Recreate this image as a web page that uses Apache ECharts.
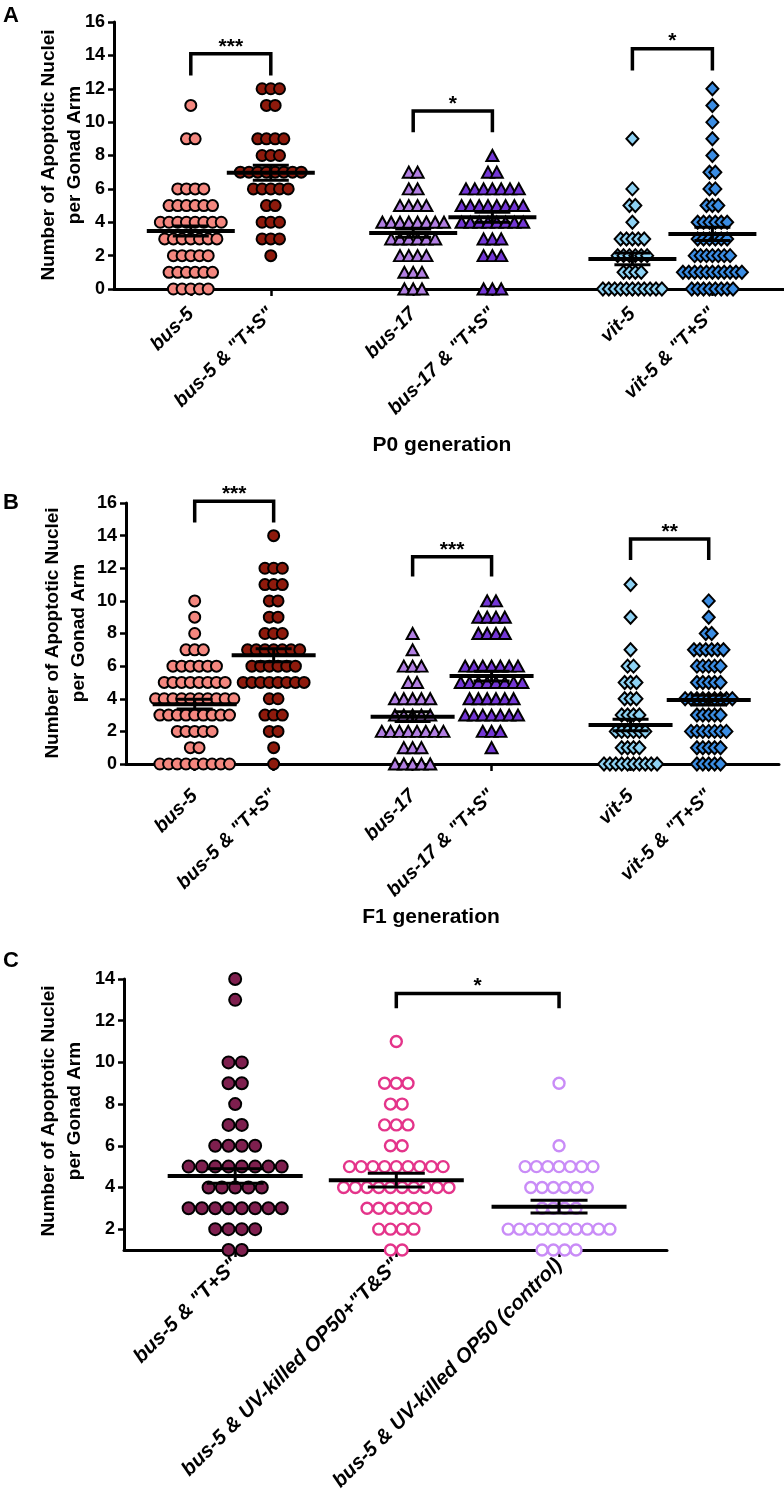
<!DOCTYPE html>
<html><head><meta charset="utf-8">
<script src="https://cdn.jsdelivr.net/npm/echarts@6/dist/echarts.min.js"></script>
<style>html,body{margin:0;padding:0;background:#fff}#c{width:784px;height:1500px}</style>
</head><body><div id="c"></div><script>
// ================= DATA =================
// Each array: element at index v = number of gonad arms with v apoptotic nuclei
const groupsAB = ['bus-5', 'bus-5 & "T+S"', 'bus-17', 'bus-17 & "T+S"', 'vit-5', 'vit-5 & "T+S"'];
const groupsC  = ['bus-5 & "T+S"', 'bus-5 & UV-killed OP50+"T&S"', 'bus-5 & UV-killed OP50 (control)'];
const ticksAB = [0, 2, 4, 6, 8, 10, 12, 14, 16];
const ticksC  = [2, 4, 6, 8, 10, 12, 14];

// Panel A - P0 generation
const A_bus5    = [5, 6, 5, 7, 8, 6, 4, 0, 0, 2, 0, 1];
const A_bus5TS  = [0, 0, 1, 3, 3, 2, 5, 8, 3, 4, 0, 2, 3];
const A_bus17   = [3, 3, 4, 6, 8, 4, 2, 2];
const A_bus17TS = [3, 0, 3, 3, 8, 8, 7, 2, 1];
const A_vit5    = [11, 4, 6, 5, 1, 2, 1, 0, 0, 1];
const A_vit5TS  = [8, 11, 7, 6, 6, 3, 2, 2, 1, 1, 1, 1, 1];
const A_mean = [3.47, 6.97, 3.35, 4.30, 1.80, 3.30];
const A_sem  = [0.30, 0.45, 0.25, 0.30, 0.35, 0.40];
const A_sig  = [[0, 1, 14.1, 12.8, '***'], [2, 3, 10.66, 9.4, '*'], [4, 5, 14.4, 13.1, '*']];

// Panel B - F1 generation
const B_bus5    = [9, 2, 5, 9, 10, 8, 6, 3, 1, 1, 1];
const B_bus5TS  = [1, 1, 2, 3, 2, 8, 6, 7, 3, 2, 2, 3, 3, 0, 1];
const B_bus17   = [5, 3, 8, 5, 5, 2, 3, 1, 1];
const B_bus17TS = [0, 1, 3, 7, 6, 8, 7, 0, 4, 4, 2];
const B_vit5    = [10, 4, 6, 4, 3, 3, 2, 1, 0, 1, 0, 1];
const B_vit5TS  = [5, 5, 7, 5, 9, 5, 5, 6, 2, 1, 1];
const B_mean = [3.67, 6.67, 2.90, 5.39, 2.39, 3.92];
const B_sem  = [0.30, 0.40, 0.30, 0.30, 0.35, 0.30];
const B_sig  = [[0, 1, 16.1, 14.8, '***'], [2, 3, 12.7, 11.5, '***'], [4, 5, 13.8, 12.5, '**']];

// Panel C
const C_bus5TS  = [0, 2, 4, 8, 5, 8, 4, 2, 1, 2, 2, 0, 0, 1, 1];
const C_uvTS    = [0, 2, 4, 6, 10, 9, 2, 3, 2, 3, 0, 1];
const C_uvCtrl  = [0, 4, 10, 4, 6, 7, 1, 0, 0, 1];
const C_mean = [4.55, 4.35, 3.08];
const C_sem  = [0.35, 0.33, 0.31];
const C_sig  = [[1, 2, 13.3, 12.6, '*']];

// ================= LAYOUT / STYLE =================
const FONT = '"Liberation Sans", Arial, Helvetica, sans-serif';
const posA = [0.96, 1.96, 3.74, 4.73, 6.48, 7.48];
const posB = [0.87, 1.87, 3.63, 4.63, 6.39, 7.38];
const posC = [0.69, 1.69, 2.70];

const styleAB = [
  {symbol: 'circle',   size: 11, color: '#F4877F'},
  {symbol: 'circle',   size: 11, color: '#8E1A0C'},
  {symbol: 'triangle', size: [12, 11], color: '#B27FE3'},
  {symbol: 'triangle', size: [12, 11], color: '#7437D6'},
  {symbol: 'diamond',  size: [12, 13], color: '#8ED2F4'},
  {symbol: 'diamond',  size: [12, 13], color: '#3B8DE3'}
];
const spacingAB = [8.7, 8.7, 8.8, 8.8, 5.9, 5.9];
const styleC = [
  {symbol: 'circle', size: 12, color: '#7E1F4E', border: '#000', bw: 2},
  {symbol: 'circle', size: 11, color: '#fff', border: '#E4348A', bw: 2.4},
  {symbol: 'circle', size: 11, color: '#fff', border: '#C98CF7', bw: 2.4}
];
const spacingC = [13.3, 11.7, 11.3];

function swarm(counts, x, spacing) {
  const out = [];
  counts.forEach((n, v) => {
    for (let i = 0; i < n; i++) {
      out.push({value: [x, v], symbolOffset: [(i - (n - 1) / 2) * spacing, 0]});
    }
  });
  return out;
}

function meanSeries(idx, pos, means, sems, meanW, capW) {
  return {
    type: 'custom', xAxisIndex: idx, yAxisIndex: idx, z: 10, clip: false,
    data: pos.map((p, i) => [p, means[i], sems[i]]),
    renderItem: function (params, api) {
      const x = api.value(0), m = api.value(1), s = api.value(2);
      const c = api.coord([x, m]), t = api.coord([x, m + s]), b = api.coord([x, m - s]);
      const st = {stroke: '#000', lineWidth: 4};
      const st2 = {stroke: '#000', lineWidth: 3};
      return {type: 'group', children: [
        {type: 'line', shape: {x1: c[0] - meanW / 2, y1: c[1], x2: c[0] + meanW / 2, y2: c[1]}, style: st},
        {type: 'line', shape: {x1: c[0], y1: t[1], x2: c[0], y2: b[1]}, style: st2},
        {type: 'line', shape: {x1: c[0] - capW / 2, y1: t[1], x2: c[0] + capW / 2, y2: t[1]}, style: st2},
        {type: 'line', shape: {x1: c[0] - capW / 2, y1: b[1], x2: c[0] + capW / 2, y2: b[1]}, style: st2}
      ]};
    }
  };
}

function sigSeries(idx, pos, sig) {
  return {
    type: 'custom', xAxisIndex: idx, yAxisIndex: idx, z: 11, clip: false,
    data: sig.map(s => [pos[s[0]], pos[s[1]], s[2], s[3]]),
    renderItem: function (params, api) {
      const x1 = api.value(0), x2 = api.value(1), top = api.value(2), leg = api.value(3);
      const p1 = api.coord([x1, top]), p2 = api.coord([x2, top]);
      const l1 = api.coord([x1, leg]), l2 = api.coord([x2, leg]);
      const txt = sig[params.dataIndex][4];
      return {type: 'group', children: [
        {type: 'polyline', shape: {points: [l1, p1, p2, l2]},
         style: {stroke: '#000', lineWidth: 3.5, fill: null}},
        {type: 'text', style: {text: txt, x: (p1[0] + p2[0]) / 2, y: p1[1] - 7,
          align: 'center', verticalAlign: 'middle', fill: '#000',
          font: 'bold 21px ' + FONT}}
      ]};
    }
  };
}

function yAxisDef(idx, min, max, ticks) {
  return {
    type: 'value', gridIndex: idx, min: min, max: max,
    axisLine: {show: true, lineStyle: {color: '#000', width: 3}},
    axisTick: {show: true, length: 6, lineStyle: {color: '#000', width: 2.5}, customValues: ticks},
    axisLabel: {color: '#000', fontFamily: FONT, fontWeight: 'bold', fontSize: 18, margin: 9, customValues: ticks},
    splitLine: {show: false}
  };
}
function xAxisDef(idx, max, pos, names, fontSize, margin) {
  return {
    type: 'value', gridIndex: idx, min: 0, max: max,
    axisLine: {show: true, onZero: false, lineStyle: {color: '#000', width: 3}},
    axisTick: {show: true, length: 7, lineStyle: {color: '#000', width: 2.5}, customValues: pos},
    axisLabel: {
      color: '#000', fontFamily: FONT, fontWeight: 'bold', fontStyle: 'italic', fontSize: fontSize,
      rotate: 45, margin: margin, customValues: pos,
      formatter: v => { const i = pos.findIndex(p => Math.abs(p - v) < 1e-6); return i >= 0 ? names[i] : ''; }
    },
    splitLine: {show: false}
  };
}

const series = [];
const dataAB = [[A_bus5, A_bus5TS, A_bus17, A_bus17TS, A_vit5, A_vit5TS],
                [B_bus5, B_bus5TS, B_bus17, B_bus17TS, B_vit5, B_vit5TS]];
[posA, posB].forEach((pos, panel) => {
  dataAB[panel].forEach((counts, g) => {
    const s = styleAB[g];
    series.push({
      type: 'scatter', name: groupsAB[g], xAxisIndex: panel, yAxisIndex: panel, z: 5,
      symbol: s.symbol, symbolSize: s.size,
      itemStyle: {color: s.color, borderColor: '#000', borderWidth: 2, opacity: 1},
      data: swarm(counts, pos[g], spacingAB[g]), silent: true, clip: false
    });
  });
});
[C_bus5TS, C_uvTS, C_uvCtrl].forEach((counts, g) => {
  const s = styleC[g];
  series.push({
    type: 'scatter', name: groupsC[g], xAxisIndex: 2, yAxisIndex: 2, z: 5,
    symbol: s.symbol, symbolSize: s.size,
    itemStyle: {color: s.color, borderColor: s.border, borderWidth: s.bw, opacity: 1},
    data: swarm(counts, posC[g], spacingC[g]), silent: true, clip: false
  });
});
series.push(meanSeries(0, posA, A_mean, A_sem, 88, 36));
series.push(meanSeries(1, posB, B_mean, B_sem, 84, 36));
series.push(meanSeries(2, posC, C_mean, C_sem, 135, 57));
series.push(sigSeries(0, posA, A_sig));
series.push(sigSeries(1, posB, B_sig));
series.push(sigSeries(2, posC, C_sig));

const yName = 'Number of Apoptotic Nuclei\nper Gonad Arm';
function vText(x, y, text) {
  return {type: 'text', x: x, y: y, rotation: Math.PI / 2,
    style: {text: text, align: 'center', verticalAlign: 'middle', fill: '#000',
      font: 'bold 19px ' + FONT, lineHeight: 26}};
}
function hText(x, y, text, size) {
  return {type: 'text', x: x, y: y,
    style: {text: text, align: 'center', verticalAlign: 'middle', fill: '#000',
      font: 'bold ' + size + 'px ' + FONT}};
}

const chart = echarts.init(document.getElementById('c'), null, {renderer: 'canvas'});
chart.setOption({
  backgroundColor: '#fff',
  animation: false,
  grid: [
    {left: 114, top: 22, width: 670, height: 267},
    {left: 126, top: 503, width: 653, height: 261},
    {left: 124, top: 979, width: 543, height: 271}
  ],
  xAxis: [xAxisDef(0, 8.375, posA, groupsAB, 19.5, 22), xAxisDef(1, 8.27, posB, groupsAB, 19.5, 29),
          xAxisDef(2, 3.37, posC, groupsC, 20.5, 12)],
  yAxis: [yAxisDef(0, 0, 16, ticksAB), yAxisDef(1, 0, 16, ticksAB), yAxisDef(2, 1, 14, ticksC)],
  series: series,
  graphic: [
    hText(11, 16, 'A', 22), hText(11, 503, 'B', 22), hText(11, 961, 'C', 22),
    vText(62, 155, yName), vText(66, 633, yName), vText(62, 1111, yName),
    hText(442, 445, 'P0 generation', 21), hText(431, 917, 'F1 generation', 21)
  ]
});
</script></body></html>
